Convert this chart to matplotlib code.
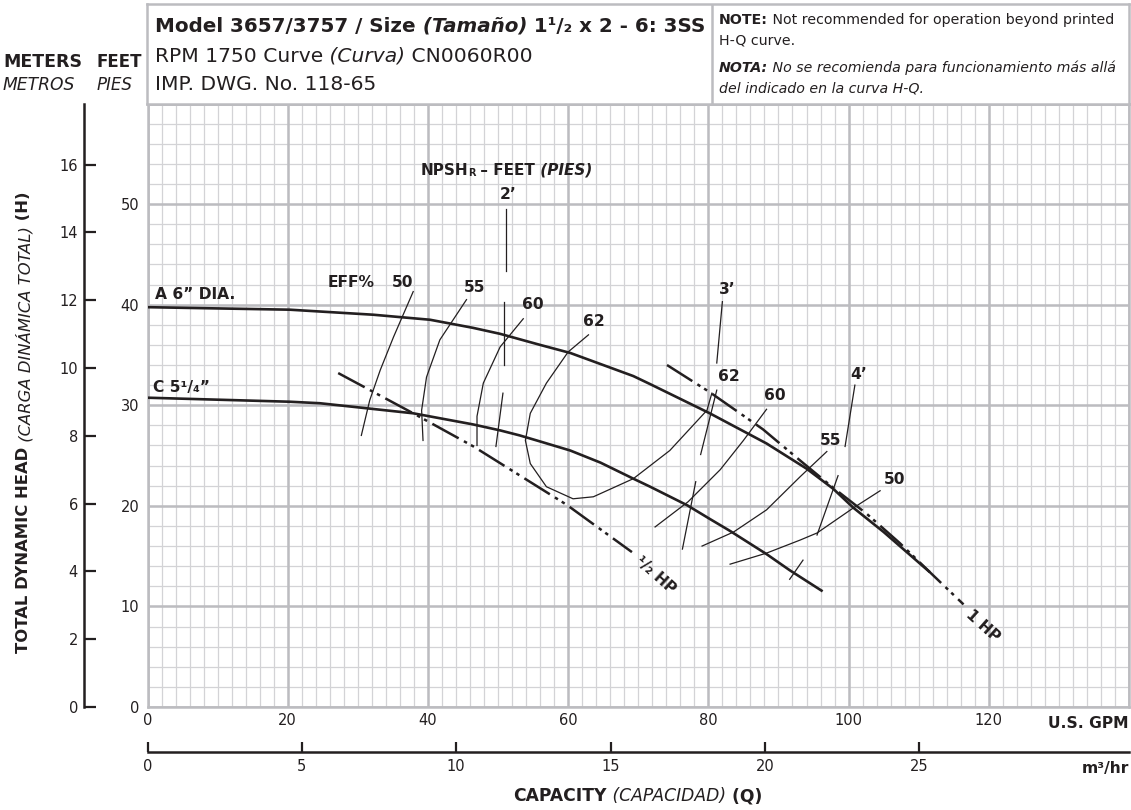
import matplotlib
matplotlib.use('Agg')
import matplotlib.pyplot as plt
from matplotlib.text import Annotation
import numpy as np

W, H = 1131, 810
INK = '#231f20'
MINOR = '#d3d3d6'
MAJOR = '#bcbcc0'
plt.rcParams['font.family'] = ['DejaVu Sans']

# ---- data (GPM, feet) ----
gpm_ticks = [0, 20, 40, 60, 80, 100, 120]
feet_ticks = [0, 10, 20, 30, 40, 50]
meter_ticks = [0, 2, 4, 6, 8, 10, 12, 14, 16]
m3h_ticks = [0, 5, 10, 15, 20, 25]
FT_PER_M = 3.37          # as drawn on the chart's meter scale
GPM_PER_M3H = 4.403

a_gpm = [0, 20.3, 32.2, 40.3, 46.4, 50.3, 56.0, 60.3, 69.3, 71.7, 80.2, 88.3, 94.0, 97.8, 100.7, 105.0, 111.6]
a_ft = [39.75, 39.5, 39.0, 38.5, 37.7, 37.1, 36.0, 35.2, 32.9, 32.1, 29.2, 26.2, 23.7, 21.7, 19.8, 17.4, 13.4]

c_gpm = [0, 20.3, 24.6, 37.9, 46.4, 50.3, 53.1, 56.0, 60.3, 64.6, 69.3, 71.7, 77.0, 80.2, 83.1, 88.3, 91.6, 96.3]
c_ft = [30.75, 30.35, 30.2, 29.2, 28.1, 27.5, 27.0, 26.4, 25.5, 24.3, 22.7, 21.9, 20.05, 18.7, 17.5, 15.2, 13.6, 11.5]

hp_half_gpm = [27.2, 37.9, 46.5, 59.8, 69.1]
hp_half_ft = [33.2, 29.2, 25.9, 20.1, 15.4]

hp_one_gpm = [74.1, 80.2, 87.8, 93.1, 97.8, 102.6, 107.3, 111.6, 116.4]
hp_one_ft = [34.0, 31.3, 27.6, 24.5, 21.8, 19.2, 16.3, 13.4, 10.2]

eff50_l_gpm = [30.5, 31.7, 33.2, 35.1, 37.9]
eff50_l_ft = [27.0, 30.5, 33.5, 36.8, 41.3]
eff55_l_gpm = [39.3, 39.1, 39.8, 41.7, 45.5]
eff55_l_ft = [26.5, 29.5, 32.8, 36.5, 40.5]
eff60_l_gpm = [47.0, 47.0, 47.9, 50.3, 53.6]
eff60_l_ft = [26.0, 28.9, 32.2, 35.8, 38.6]
eff62_gpm = [62.9, 60.0, 56.9, 54.6, 53.9, 54.6, 56.9, 60.7, 63.6, 69.3, 74.5, 79.8, 80.5]
eff62_ft = [37.0, 35.3, 32.2, 29.2, 26.5, 24.2, 21.9, 20.7, 20.9, 22.7, 25.5, 29.5, 31.2]
eff60_r_gpm = [72.4, 77.1, 81.7, 85.0, 88.3]
eff60_r_ft = [17.9, 20.4, 23.6, 26.5, 29.6]
eff55_r_gpm = [79.1, 83.6, 88.3, 93.1, 96.9]
eff55_r_ft = [16.0, 17.4, 19.6, 22.9, 25.4]
eff50_r_gpm = [83.1, 88.3, 93.1, 95.5, 100.7, 104.5]
eff50_r_ft = [14.2, 15.3, 16.6, 17.3, 19.8, 21.5]

npsh2_gpm = [(51.1, 51.1), (50.9, 50.9), (50.7, 49.7)]
npsh2_ft = [(49.5, 43.3), (40.3, 34.0), (31.2, 25.9)]
npsh3_gpm = [(82.0, 81.2), (81.2, 78.9), (78.2, 76.3)]
npsh3_ft = [(40.3, 34.2), (31.5, 25.1), (22.4, 15.7)]
npsh4_gpm = [(100.9, 99.5), (98.5, 95.5), (93.5, 91.6)]
npsh4_ft = [(32.0, 25.9), (23.0, 17.1), (14.6, 12.7)]

eff_labels = ['EFF%', '50', '55', '60', '62', '62', '60', '55', '50']
eff_label_gpm = [29.1, 36.4, 46.7, 54.9, 63.7, 82.9, 89.5, 97.5, 106.5]
eff_label_ft = [42.2, 42.2, 41.7, 40.0, 38.3, 32.9, 31.0, 26.5, 22.6]
npsh_labels = ['2’', '3’', '4’']
npsh_label_gpm = [51.4, 82.7, 101.4]
npsh_label_ft = [51.0, 41.5, 33.1]

fig = plt.figure(figsize=(W / 100, H / 100), dpi=100)


def fx(px):
    return px / W


def fy(py):
    return 1 - py / H


def rich(x, y, parts, size, transform=None, vertical=False, center=None):
    """Draw text pieces with different weight/style/size one after another."""
    transform = transform or fig.transFigure
    out = []
    for part in parts:
        s, weight, style = part[:3]
        sz = part[3] if len(part) > 3 else size
        kw = dict(fontsize=sz, fontweight=weight, fontstyle=style, color=INK)
        if not out:
            if vertical:
                t = fig.text(x, y, s, transform=transform, rotation=90,
                             ha='left', va='bottom', **kw)
            else:
                t = fig.text(x, y, s, transform=transform, ha='left',
                             va='baseline', **kw)
        else:
            if vertical:
                t = Annotation(s, xy=(0, 1), xycoords=out[-1], rotation=90,
                               ha='left', va='bottom', **kw)
            else:
                t = Annotation(s, xy=(1, 0), xycoords=out[-1],
                               ha='left', va='bottom', **kw)
            fig.add_artist(t)
        out.append(t)
    if center is not None:
        r = fig.canvas.get_renderer()
        bbs = [t.get_window_extent(r) for t in out]
        if vertical:
            mid = (min(b.y0 for b in bbs) + max(b.y1 for b in bbs)) / 2
            out[0].set_y(y + ((H - center) - mid) / H)
        else:
            mid = (min(b.x0 for b in bbs) + max(b.x1 for b in bbs)) / 2
            out[0].set_x(x + (center - mid) / W)
    return out


X0, X1 = 147.5, 1129
Y0, Y1 = 707, 103.5
ax = fig.add_axes([fx(X0), fy(Y0), (X1 - X0) / W, (Y0 - Y1) / H])
ax.set_xlim(0, 140)
ax.set_ylim(0, 60)

# graph paper
ax.vlines(np.arange(0, 141, 2), 0, 60, color=MINOR, lw=0.9, zorder=0)
ax.hlines(np.arange(0, 61, 2), 0, 140, color=MINOR, lw=0.9, zorder=0)
ax.vlines(np.arange(0, 141, 20), 0, 60, color=MAJOR, lw=1.8, zorder=0.5)
ax.hlines(np.arange(0, 61, 10), 0, 140, color=MAJOR, lw=1.8, zorder=0.5)
for sp in ax.spines.values():
    sp.set_color(MAJOR)
    sp.set_linewidth(1.8)

ax.set_xticks(gpm_ticks)
ax.set_yticks(feet_ticks)
ax.tick_params(length=0, labelsize=10.5, labelcolor=INK)
ax.tick_params(axis='x', pad=4)
ax.tick_params(axis='y', pad=6)

# meters scale on the left
sec_y = ax.secondary_yaxis((84.3 - X0) / (X1 - X0),
                           functions=(lambda f: f / FT_PER_M, lambda m: m * FT_PER_M))
sec_y.set_yticks(meter_ticks)
sec_y.tick_params(direction='in', length=8.5, width=1.6, color=INK,
                  labelsize=10.5, labelcolor=INK, pad=4.5)
sec_y.spines['left'].set_linewidth(1.8)
sec_y.spines['left'].set_color(INK)

# m3/hr scale at the bottom
sec_x = ax.secondary_xaxis(-(752.3 - Y0) / (Y0 - Y1),
                           functions=(lambda g: g / GPM_PER_M3H, lambda m: m * GPM_PER_M3H))
sec_x.set_xticks(m3h_ticks)
sec_x.tick_params(direction='in', length=7.5, width=1.6, color=INK,
                  labelsize=10.5, labelcolor=INK, pad=5)
sec_x.spines['bottom'].set_linewidth(1.8)
sec_x.spines['bottom'].set_color(INK)

# head-capacity curves
ax.plot(a_gpm, a_ft, color=INK, lw=1.9, zorder=3, solid_capstyle='butt')
ax.plot(c_gpm, c_ft, color=INK, lw=1.9, zorder=3, solid_capstyle='butt')

# horsepower lines
dash = (0, (12, 2.4, 1.4, 1.8, 1.4, 2.4))
ax.plot(hp_half_gpm, hp_half_ft, color=INK, lw=1.8, ls=dash, zorder=3)
ax.plot(hp_one_gpm, hp_one_ft, color=INK, lw=1.8, ls=dash, zorder=3)

# efficiency curves
for g, f in [(eff50_l_gpm, eff50_l_ft), (eff55_l_gpm, eff55_l_ft),
             (eff60_l_gpm, eff60_l_ft), (eff62_gpm, eff62_ft),
             (eff60_r_gpm, eff60_r_ft), (eff55_r_gpm, eff55_r_ft),
             (eff50_r_gpm, eff50_r_ft)]:
    ax.plot(g, f, color=INK, lw=0.9, zorder=2)

# NPSHr lines
for gl, fl in [(npsh2_gpm, npsh2_ft), (npsh3_gpm, npsh3_ft), (npsh4_gpm, npsh4_ft)]:
    for g, f in zip(gl, fl):
        ax.plot(g, f, color=INK, lw=0.9, zorder=2)

for s, g, f in zip(eff_labels, eff_label_gpm, eff_label_ft):
    ax.text(g, f, s, fontsize=11.2, fontweight='bold', color=INK,
            ha='center', va='center', zorder=4)
for s, g, f in zip(npsh_labels, npsh_label_gpm, npsh_label_ft):
    ax.text(g, f, s, fontsize=11.2, fontweight='bold', color=INK,
            ha='center', va='center', zorder=4)

ax.text(1.1, 41.0, 'A 6” DIA.', fontsize=11.2, fontweight='bold', color=INK,
        ha='left', va='center')
ax.text(0.8, 31.8, 'C 5¹/₄”', fontsize=11.2, fontweight='bold', color=INK,
        ha='left', va='center')
ax.text(72.5, 13.1, '¹/₂ HP', fontsize=11, fontweight='bold', color=INK,
        ha='center', va='center', rotation=-42, rotation_mode='anchor')
ax.text(119.2, 8.05, '1 HP', fontsize=11, fontweight='bold', color=INK,
        ha='center', va='center', rotation=-42, rotation_mode='anchor')

rich(38.9, 52.9, [('NPSH', 'bold', 'normal'), ('R', 'bold', 'normal', 7),
                  (' – FEET', 'bold', 'normal'), (' (PIES)', 'bold', 'italic')],
     11, transform=ax.transData)

# header box
hdr = fig.add_axes([fx(146.5), fy(103.5), (X1 - 146.5) / W, (103.5 - 4) / H])
hdr.set_xlim(0, 1)
hdr.set_ylim(0, 1)
hdr.set_xticks([])
hdr.set_yticks([])
for sp in hdr.spines.values():
    sp.set_color(MAJOR)
    sp.set_linewidth(1.8)
hdr.axvline((712 - 146.5) / (X1 - 146.5), color=MAJOR, lw=1.8)

rich(fx(155), fy(31.7), [('Model 3657/3757 / Size', 'bold', 'normal'),
                         (' (Tamaño)', 'bold', 'italic'),
                         (' 1¹/₂ x 2 - 6: 3SS', 'bold', 'normal')], 14.3)
rich(fx(155), fy(61.7), [('RPM 1750 Curve', 'normal', 'normal'),
                         (' (Curva)', 'normal', 'italic'),
                         (' CN0060R00', 'normal', 'normal')], 14.6)
rich(fx(155), fy(90), [('IMP. DWG. No. 118-65', 'normal', 'normal')], 14.6)

rich(fx(719), fy(24), [('NOTE:', 'bold', 'normal'),
                       (' Not recommended for operation beyond printed', 'normal', 'normal')], 10.2)
rich(fx(719), fy(44), [('H-Q curve.', 'normal', 'normal')], 10.2)
rich(fx(719), fy(72), [('NOTA:', 'bold', 'italic'),
                       (' No se recomienda para funcionamiento más allá', 'normal', 'italic')], 10.2)
rich(fx(719), fy(92), [('del indicado en la curva H-Q.', 'normal', 'italic')], 10.2)

# axis captions
fig.text(fx(3), fy(66.7), 'METERS', fontsize=12.5, fontweight='bold', color=INK)
fig.text(fx(96), fy(66.7), 'FEET', fontsize=12, fontweight='bold', color=INK)
fig.text(fx(3), fy(90), 'METROS', fontsize=12.3, fontstyle='italic', color=INK)
fig.text(fx(97), fy(90), 'PIES', fontsize=12, fontstyle='italic', color=INK)

fig.text(fx(1129), fy(728), 'U.S. GPM', fontsize=11.2, fontweight='bold', color=INK,
         ha='right', va='baseline')
fig.text(fx(1129), fy(773), 'm³/hr', fontsize=11.2, fontweight='bold', color=INK,
         ha='right', va='baseline')

rich(fx(500), fy(801), [('CAPACITY', 'bold', 'normal'),
                        (' (CAPACIDAD)', 'normal', 'italic'),
                        (' (Q)', 'bold', 'normal')], 12.3, center=638)
rich(fx(16), fy(657), [('TOTAL DYNAMIC HEAD', 'bold', 'normal'),
                       (' (CARGA DINÁMICA TOTAL)', 'normal', 'italic'),
                       (' (H)', 'bold', 'normal')], 11.8, vertical=True, center=422)

fig.savefig('out.png', dpi=100)
